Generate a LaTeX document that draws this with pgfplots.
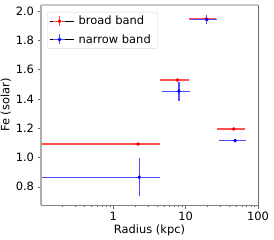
\documentclass[border=0pt]{standalone}
\usepackage{fontspec}
\setmainfont{DejaVu Sans}
\usepackage{pgfplots}
\pgfplotsset{compat=1.18}
\usepackage{pgfplotstable}

\definecolor{errred}{RGB}{255,80,80}
\definecolor{errblue}{RGB}{80,80,255}

% points: broad band (red) and narrow band (blue)
\pgfplotstableread{
x y
2.2 1.092
7.7 1.528
19.2 1.945
46.2 1.195
}\broad
\pgfplotstableread{
x y
2.28 0.865
8.06 1.452
19.6 1.94
48.2 1.115
}\narrow
% error bars as segments (nan separates segments)
\pgfplotstableread{
x y
0.05 1.092
4.4 1.092
nan nan
2.2 1.086
2.2 1.098
nan nan
4.4 1.528
11.1 1.528
nan nan
7.7 1.522
7.7 1.534
nan nan
11.2 1.945
26.3 1.945
nan nan
19.2 1.937
19.2 1.953
nan nan
26.9 1.195
65.6 1.195
nan nan
46.2 1.189
46.2 1.201
}\broaderr
\pgfplotstableread{
x y
0.05 0.865
4.45 0.865
nan nan
2.28 0.735
2.28 0.995
nan nan
4.7 1.452
11.3 1.452
nan nan
8.06 1.387
8.06 1.517
nan nan
11.9 1.94
26.9 1.94
nan nan
19.6 1.91
19.6 1.97
nan nan
29.0 1.115
67.7 1.115
nan nan
48.2 1.107
48.2 1.123
}\narrowerr

\begin{document}
\begin{tikzpicture}
\useasboundingbox (0,0) rectangle (274bp,240bp);
\begin{axis}[
  at={(41bp,35bp)}, anchor=south west,
  width=217bp, height=200bp, scale only axis,
  xmode=log, xmin=0.1, xmax=100, ymin=0.676, ymax=2.04,
  xtick={1,10,100}, xticklabels={1,10,100},
  minor xtick={0.2,0.3,0.4,0.5,0.6,0.7,0.8,0.9,2,3,4,5,6,7,8,9,20,30,40,50,60,70,80,90},
  ytick={0.8,1.0,1.2,1.4,1.6,1.8,2.0},
  yticklabel style={/pgf/number format/.cd, fixed, fixed zerofill, precision=1},
  /pgf/number format/assume math mode=true,
  tick label style={font=\fontsize{11.5}{13}\selectfont, text=black},
  label style={font=\fontsize{11.5}{13}\selectfont},
  xlabel={Radius (kpc)}, ylabel={Fe (solar)},
  xlabel style={yshift=3bp},
  ylabel style={yshift=-2bp},
  xtick pos=bottom, ytick pos=left, tick align=outside,
  major tick length=3.5bp, minor tick length=2bp,
  every tick/.style={black!60, line width=0.6bp},
  axis line style={draw=none},
  unbounded coords=jump,
  clip=true,
  legend style={at={(0.028,0.965)}, anchor=north west,
    draw=black!15, rounded corners=2bp, fill=white,
    font=\fontsize{11.5}{13}\selectfont, inner xsep=3bp, inner ysep=2bp, row sep=4bp,
    nodes={inner xsep=4bp, inner ysep=2bp}},
  legend cell align=left,
  after end axis/.code={
    \draw[black!32, line width=1.5bp] (rel axis cs:0,0) -- (rel axis cs:0,1);
    \draw[black!22, line width=1.2bp] (rel axis cs:0,1) -- (rel axis cs:1,1);
    \draw[black!58, line width=1bp] (rel axis cs:1,0) -- (rel axis cs:1,1);
    \draw[black!50, line width=1bp] (rel axis cs:0,0) -- (rel axis cs:1,0);
  },
]
\addplot[forget plot, no marks, draw=errred, line width=1.3bp] table {\broaderr};
\addplot[forget plot, only marks, mark=*, mark size=1.6bp, draw=red, fill=red] table {\broad};
\addplot[forget plot, no marks, draw=errblue, line width=1.3bp] table {\narrowerr};
\addplot[forget plot, only marks, mark=*, mark size=1.6bp, draw=blue, fill=blue] table {\narrow};
\addlegendimage{legend image code/.code={
  \path (0bp,0bp) -- (24bp,0bp);
  \draw[errred, line width=1.3bp] (3bp,0bp) -- (15bp,0bp) (9bp,-5bp) -- (9bp,5bp);
  \fill[red] (9bp,0bp) circle (1.6bp);}}
\addlegendentry{broad band}
\addlegendimage{legend image code/.code={
  \path (0bp,0bp) -- (24bp,0bp);
  \draw[errblue, line width=1.3bp] (3bp,0bp) -- (15bp,0bp) (9bp,-5bp) -- (9bp,5bp);
  \fill[blue] (9bp,0bp) circle (1.6bp);}}
\addlegendentry{narrow band}
\end{axis}
\end{tikzpicture}
\end{document}
